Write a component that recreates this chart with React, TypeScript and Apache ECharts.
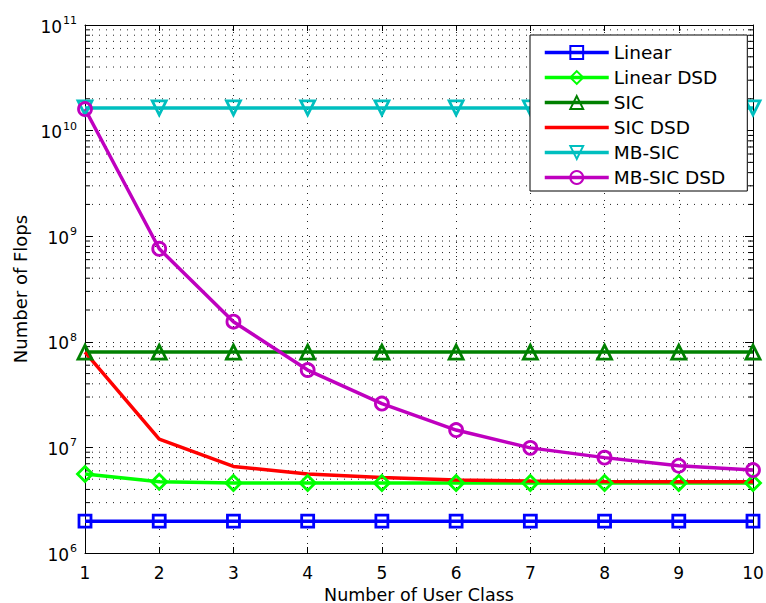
import React, { useEffect, useRef } from "react";
import * as echarts from "echarts";

const userClasses = [1, 2, 3, 4, 5, 6, 7, 8, 9, 10];
const linear = [2.0e6, 2.0e6, 2.0e6, 2.0e6, 2.0e6, 2.0e6, 2.0e6, 2.0e6, 2.0e6, 2.0e6];
const linearDSD = [5.6e6, 4.72e6, 4.6e6, 4.6e6, 4.6e6, 4.6e6, 4.6e6, 4.6e6, 4.6e6, 4.6e6];
const sic = [8.0e7, 8.0e7, 8.0e7, 8.0e7, 8.0e7, 8.0e7, 8.0e7, 8.0e7, 8.0e7, 8.0e7];
const sicDSD = [8.0e7, 1.2e7, 6.6e6, 5.6e6, 5.2e6, 4.9e6, 4.8e6, 4.75e6, 4.73e6, 4.73e6];
const mbSic = [1.64e10, 1.64e10, 1.64e10, 1.64e10, 1.64e10, 1.64e10, 1.64e10, 1.64e10, 1.64e10, 1.64e10];
const mbSicDSD = [1.6e10, 7.6e8, 1.55e8, 5.4e7, 2.6e7, 1.46e7, 9.9e6, 8.0e6, 6.7e6, 6.1e6];

const decades = [1e6, 1e7, 1e8, 1e9, 1e10, 1e11];
const minorMultiples = [2, 3, 4, 5, 6, 7, 8, 9];

const FONT = "DejaVu Sans";

export default function App() {
  const ref = useRef<HTMLDivElement>(null);
  useEffect(() => {
    if (!ref.current) return;
    const chart = echarts.init(ref.current, undefined, { renderer: "svg" });

    const minorValues: number[] = [];
    decades.slice(0, -1).forEach((d) => minorMultiples.forEach((m) => minorValues.push(d * m)));

    const pairs = (arr: number[]) => arr.map((v, i) => [userClasses[i], v]);

    const mk = (name: string, data: number[], color: string, symbol: string, size: number, rotate = 0) => {
      const noMarker = symbol === "none";
      return {
        name,
        type: "line",
        data: pairs(data),
        symbol: noMarker ? "circle" : symbol,
        symbolSize: noMarker ? 0 : size,
        symbolRotate: rotate,
        showSymbol: !noMarker,
        lineStyle: { color, width: 3.5 },
        itemStyle: noMarker
          ? { color: "rgba(0,0,0,0)", borderColor: "rgba(0,0,0,0)", borderWidth: 0 }
          : { color: "rgba(0,0,0,0)", borderColor: color, borderWidth: 2.8 },
        z: 3,
      };
    };

    const gridSeries = {
      name: "_grid",
      type: "custom",
      silent: true,
      z: 1,
      data: minorValues.map((v) => [1, v]),
      renderItem: (params: any, api: any) => {
        const cs = params.coordSys;
        const y = api.coord([1, api.value(1)])[1];
        return {
          type: "group",
          children: [
            {
              type: "line",
              shape: { x1: cs.x, y1: y, x2: cs.x + cs.width, y2: y },
              style: { stroke: "#222", lineWidth: 1, lineDash: [1, 6] },
            },
            {
              type: "line",
              shape: { x1: cs.x, y1: y, x2: cs.x + 5, y2: y },
              style: { stroke: "#000", lineWidth: 1 },
            },
            {
              type: "line",
              shape: { x1: cs.x + cs.width - 5, y1: y, x2: cs.x + cs.width, y2: y },
              style: { stroke: "#000", lineWidth: 1 },
            },
          ],
        };
      },
    };

    const splitDotted = { show: true, lineStyle: { color: "#222", width: 1, type: [1, 6] } };

    chart.setOption({
      animation: false,
      backgroundColor: "#fff",
      grid: { left: 85, right: 13, top: 25, bottom: 50, containLabel: false, outerBoundsMode: "none" },
      legend: {
        data: ["Linear", "Linear DSD", "SIC", "SIC DSD", "MB-SIC", "MB-SIC DSD"],
        orient: "vertical",
        left: 530,
        top: 35,
        padding: [8, 22, 4, 13],
        itemGap: 6,
        itemWidth: 64,
        itemHeight: 16,
        backgroundColor: "#fff",
        borderColor: "#000",
        borderWidth: 1,
        borderRadius: 0,
        lineStyle: { width: 3.5 },
        textStyle: { fontFamily: FONT, fontSize: 18.5, color: "#000" },
      },
      xAxis: [
        {
          type: "value",
          min: 1,
          max: 10,
          interval: 1,
          name: "Number of User Class",
          nameLocation: "middle",
          nameGap: 27,
          nameTextStyle: { fontFamily: FONT, fontSize: 17.5, lineHeight: 18, color: "#000" },
          axisLine: { show: true, onZero: false, lineStyle: { color: "#000", width: 1 } },
          axisTick: { show: true, inside: true, length: 6, lineStyle: { color: "#000" } },
          axisLabel: { fontFamily: FONT, fontSize: 17, color: "#000", margin: 11 },
          splitLine: splitDotted,
        },
        {
          type: "value",
          position: "top",
          min: 1,
          max: 10,
          interval: 1,
          axisLine: { show: true, onZero: false, lineStyle: { color: "#000", width: 1 } },
          axisTick: { show: true, inside: true, length: 6, lineStyle: { color: "#000" } },
          axisLabel: { show: false },
          splitLine: { show: false },
        },
      ],
      yAxis: [
        {
          type: "log",
          logBase: 10,
          min: 1e6,
          max: 1e11,
          name: "Number of Flops",
          nameLocation: "middle",
          nameGap: 52,
          nameTextStyle: { fontFamily: FONT, fontSize: 18, color: "#000" },
          axisLine: { show: true, onZero: false, lineStyle: { color: "#000", width: 1 } },
          axisTick: { show: true, inside: true, length: 8, lineStyle: { color: "#000" } },
          axisLabel: {
            margin: 8,
            formatter: (v: number) => `{b|10}{s|${Math.round(Math.log10(v))}}`,
            rich: {
              b: { fontFamily: FONT, fontSize: 17, color: "#000", verticalAlign: "bottom" },
              s: { fontFamily: FONT, fontSize: 11, color: "#000", verticalAlign: "bottom", padding: [0, 0, 9, 1] },
            },
          },
          splitLine: splitDotted,
        },
        {
          type: "log",
          logBase: 10,
          position: "right",
          min: 1e6,
          max: 1e11,
          axisLine: { show: true, onZero: false, lineStyle: { color: "#000", width: 1 } },
          axisTick: { show: true, inside: true, length: 8, lineStyle: { color: "#000" } },
          axisLabel: { show: false },
          splitLine: { show: false },
        },
      ],
      series: [
        gridSeries,
        mk("Linear", linear, "#0000ff", "rect", 12),
        mk("Linear DSD", linearDSD, "#00ff00", "diamond", 15),
        mk("SIC", sic, "#008000", "triangle", 14),
        mk("SIC DSD", sicDSD, "#ff0000", "none", 0),
        mk("MB-SIC", mbSic, "#00bfbf", "triangle", 14, 180),
        mk("MB-SIC DSD", mbSicDSD, "#bf00bf", "circle", 13),
      ],
    });
    return () => chart.dispose();
  }, []);
  return <div ref={ref} style={{ width: 766, height: 603, position: "absolute", left: 0, top: 0 }} />;
}
